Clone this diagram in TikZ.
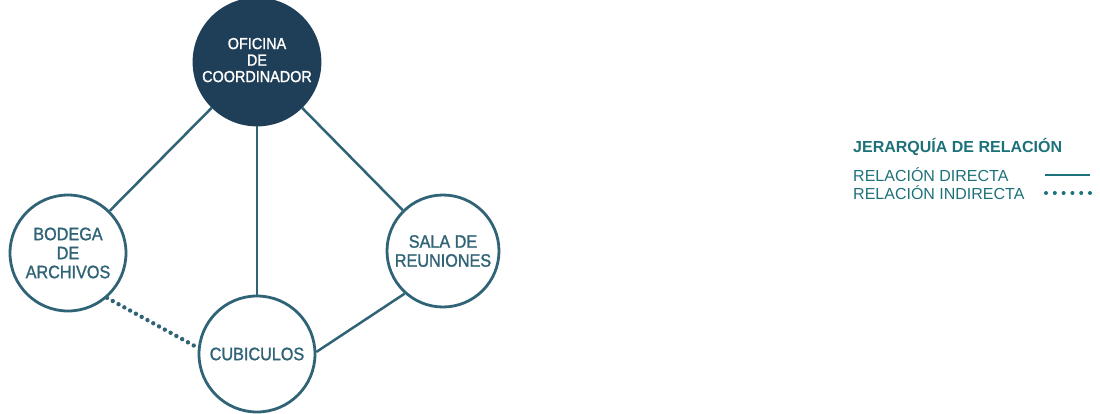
\documentclass[tikz,border=0pt]{standalone}
\usepackage{fontspec}
\usetikzlibrary{positioning}
\newfontfamily\roomfont[FakeStretch=0.9,FakeBold=1.2]{Liberation Sans}
\newfontfamily\legendfont{Liberation Sans}
\definecolor{roomline}{HTML}{2F6375}
\definecolor{coordfill}{HTML}{1F3E58}
\definecolor{legendteal}{HTML}{1D727A}
\tikzset{
  room/.style={circle,draw=roomline,line width=2.8pt,fill=white,inner sep=0pt,
    align=center,text=roomline,font=\roomfont\fontsize{18}{19}\selectfont},
  headroom/.style={room,fill=coordfill,draw=coordfill,text=white,
    font=\roomfont\fontsize{16}{16.5}\selectfont},
  direct/.style={draw=roomline,line width=2.5pt},
  indirect/.style={draw=roomline,line width=4.4pt,line cap=round,
    dash pattern=on 0pt off 6.6pt},
  legendtext/.style={anchor=west,inner sep=0pt,text=legendteal,
    font=\legendfont\fontsize{16}{17}\selectfont}
}

\begin{document}
\begin{tikzpicture}[x=1pt,y=-1pt]
\useasboundingbox (0,0) rectangle (1100,413);
% rooms
\node[headroom,minimum size=126pt,text depth=4pt] (coord) at (257,62) {OFICINA\\DE\\COORDINADOR};
\node[room,minimum size=116pt] (bodega) at (68,253) {BODEGA\\DE\\ARCHIVOS};
\node[room,minimum size=116pt] (cub) at (257,354) {CUBICULOS};
\node[room,minimum size=112pt] (sala) at (443,251) {SALA DE\\REUNIONES};
% relations
\draw[direct] (coord)--(bodega);
\draw[direct] (coord)--(cub);
\draw[direct] (coord)--(sala);
\draw[direct] (cub.2)--(sala.228);
\draw[indirect] (bodega.-49)--(cub.174);
% legend
\node[legendtext,font=\legendfont\bfseries\fontsize{16}{17}\selectfont] (legtitle) at (853,147) {JERARQUÍA DE RELACIÓN};
\node[legendtext] (legdirect) at (853,175) {RELACIÓN DIRECTA};
\node[legendtext] (legindirect) at (853,193) {RELACIÓN INDIRECTA};
\coordinate (directA) at (1045,175);
\coordinate (directB) at (1090,175);
\coordinate (indirectA) at (1046,193);
\coordinate (indirectB) at (1090.5,193);
\draw[direct,draw=legendteal,line width=2pt] (directA)--(directB);
\draw[indirect,draw=legendteal,line width=4pt,dash pattern=on 0pt off 8.8pt] (indirectA)--(indirectB);
\end{tikzpicture}
\end{document}
